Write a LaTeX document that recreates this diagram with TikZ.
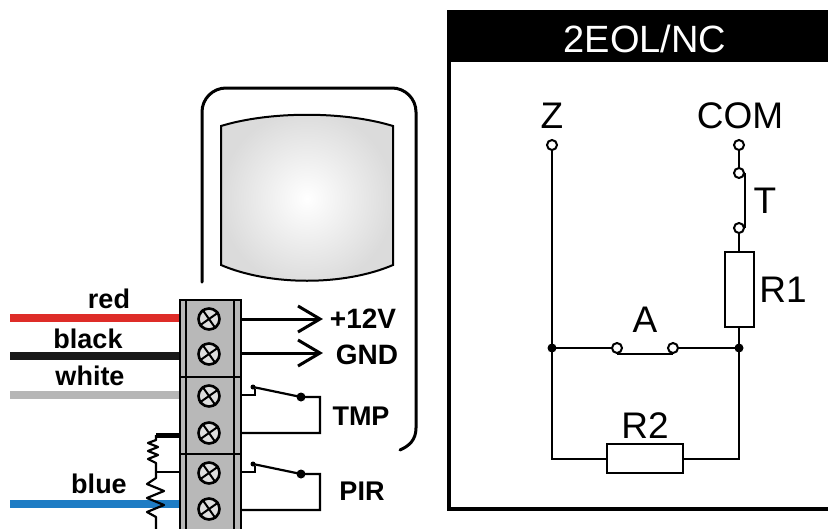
\documentclass[tikz,border=0pt]{standalone}
\usepackage{fontspec}
\setmainfont{Liberation Sans}
\definecolor{wirered}{RGB}{222,44,40}
\definecolor{wireblack}{RGB}{25,25,25}
\definecolor{wirewhite}{RGB}{182,182,182}
\definecolor{wireblue}{RGB}{30,124,196}
\definecolor{blockgray}{RGB}{184,184,184}
\definecolor{screwfill}{RGB}{222,222,222}
\begin{document}
\begin{tikzpicture}[x=1pt,y=-1pt,
  lbl/.style={font=\fontsize{27}{30}\selectfont\bfseries, inner sep=0, anchor=base},
  clbl/.style={font=\fontsize{37}{40}\selectfont, inner sep=0, anchor=base},
  cable/.style={line width=8},
  thin/.style={line width=2.2},
  ckt/.style={line width=2},
  term/.style={circle, draw, line width=2, fill=white, minimum size=10, inner sep=0},
  jdot/.style={circle, fill=black, minimum size=9, inner sep=0},
  sdot/.style={circle, fill=black, minimum size=5, inner sep=0},
  bdot/.style={circle, fill=black, minimum size=9, inner sep=0},
  screw/.style={circle, draw, line width=2.6, fill=screwfill, minimum size=21, inner sep=0},
  resbox/.style={draw, rectangle, line width=2, fill=white, inner sep=0}]
\useasboundingbox (0,0) rectangle (828,528);
\fill[white] (0,0) rectangle (828,528);

% ---------------- detector housing ----------------
\draw[line width=3, line cap=round]
  (202,282) -- (202,112) arc[start angle=180, end angle=270, radius=24]
  -- (392,88) arc[start angle=270, end angle=360, radius=24]
  -- (416,428) .. controls (416,440) and (409,446) .. (400,450);
\shade[inner color=white, outer color=gray!28]
  (221,126) .. controls (270,111) and (344,111) .. (393,126) -- (393,265)
  .. controls (344,286) and (270,286) .. (221,265) -- cycle;
\draw[line width=2]
  (221,126) .. controls (270,111) and (344,111) .. (393,126) -- (393,265)
  .. controls (344,286) and (270,286) .. (221,265) -- cycle;

% ---------------- cables ----------------
\coordinate (redL) at (10,318);   \coordinate (redR) at (181,318);
\coordinate (blkL) at (10,356);   \coordinate (blkR) at (181,356);
\coordinate (whtL) at (10,395);   \coordinate (whtR) at (181,395);
\coordinate (bluL) at (10,504);   \coordinate (bluR) at (181,504);
\draw[cable, wirered]   (redL) -- (redR);
\draw[cable, wireblack] (blkL) -- (blkR);
\draw[cable, wirewhite] (whtL) -- (whtR);
\draw[cable, wireblue]  (bluL) -- (bluR);
\node[lbl] (tred)   at (109,308) {red};
\node[lbl] (tblack) at (88,348)  {black};
\node[lbl] (twhite) at (90,385)  {white};
\node[lbl] (tblue)  at (99,493)  {blue};

% end-of-line resistors on the left of the block
\coordinate (rtop) at (156,435);
\coordinate (rmid) at (156,472);
\draw[line width=5] (rtop) -- (181,435);
\draw[thin] (rmid) -- (181,472);
\draw[thin, line join=round]
  (rtop) -- (156,440) -- (148,443) -- (158,447) -- (148,451) -- (158,455)
  -- (148,459) -- (156,463) -- (rmid);
\draw[thin, line join=round]
  (rmid) -- (156,478) -- (147,484) -- (164,491) -- (147,498) -- (164,505)
  -- (147,512) -- (156,517) -- (156,530);

% ---------------- terminal block ----------------
\fill[blockgray] (180,300) rectangle (241,535);
\draw[line width=2] (180,535) -- (180,300) -- (241,300) -- (241,535);
\draw[line width=1.6] (186,300) -- (186,535) (234,300) -- (234,535);
\draw[line width=2] (180,377) -- (241,377) (180,454) -- (241,454);
\foreach \n/\yy in {1/319, 2/354, 3/396, 4/433, 5/473, 6/509} {
  \node[screw] (s\n) at (209,\yy) {};
  \draw[line width=2] (s\n.35) -- (s\n.215) (s\n.125) -- (s\n.305);
}

% ---------------- power outputs ----------------
\coordinate (p12s) at (241,319); \coordinate (p12e) at (320,319);
\coordinate (gnds) at (241,353); \coordinate (gnde) at (320,353);
\draw[line width=3] (p12s) -- (p12e);
\draw[line width=3, line join=miter] (p12e) ++(-22,-13) -- (p12e) -- ++(-22,13);
\draw[line width=3] (gnds) -- (gnde);
\draw[line width=3, line join=miter] (gnde) ++(-22,-13) -- (gnde) -- ++(-22,13);
\node[lbl, font=\fontsize{28}{30}\selectfont\bfseries] (t12v) at (363,328) {+12V};
\node[lbl, font=\fontsize{28}{30}\selectfont\bfseries] (tgnd) at (367,364) {GND};

% ---------------- tamper and alarm contacts ----------------
\foreach \nm/\dy in {tmp/0, pir/77} {
  \coordinate (\nm a) at (241,395+\dy);
  \coordinate (\nm b) at (255,395+\dy);
  \coordinate (\nm c) at (255,389+\dy);
  \node[sdot] (\nm s) at (253,387+\dy) {};
  \node[bdot] (\nm d) at (301,397+\dy) {};
  \coordinate (\nm e) at (320,397+\dy);
  \coordinate (\nm f) at (320,433+\dy);
  \coordinate (\nm g) at (241,433+\dy);
  \draw[thin] (\nm a) -- (\nm b) -- (\nm c);
  \draw[thin] (\nm s.center) -- (\nm d.center) -- (\nm e) -- (\nm f) -- (\nm g);
}
\node[lbl] (ttmp) at (361,425) {TMP};
\node[lbl] (tpir) at (362,500) {PIR};

% ---------------- 2EOL/NC schematic ----------------
\fill[black] (447,12) rectangle (840,62);
\draw[line width=3.5] (840,12) -- (449,12) -- (449,509) -- (840,509);
\node[clbl, text=white, font=\fontsize{38}{40}\selectfont] (title) at (645,52) {2EOL/NC};

\node[term] (zT) at (552,145) {};
\node[term] (cT) at (739,145) {};
\node[term] (t1) at (739,173) {};
\node[term] (t2) at (739,228) {};
\node[resbox, minimum width=29, minimum height=75] (r1) at (739,289.5) {};
\node[resbox, minimum width=76, minimum height=29] (r2) at (645,458.5) {};
\node[jdot] (jL) at (552,348) {};
\node[jdot] (jR) at (739,348) {};
\node[term] (aL) at (617,348) {};
\node[term] (aR) at (673,348) {};
\coordinate (bl) at (552,458.5);
\coordinate (br) at (739,458.5);

\draw[ckt] (zT) -- (jL.center) -- (bl) -- (r2.west);
\draw[ckt] (r2.east) -- (br) -- (jR.center);
\draw[ckt] (jR.center) -- (r1.south);
\draw[ckt] (r1.north) -- (t2);
\draw[ckt] (cT) -- (t1);
\draw[ckt] (t1.east) -- (t2.east);
\draw[ckt] (jL.center) -- (aL.west);
\draw[ckt] (aR.east) -- (jR.center);
\draw[ckt] (aL.south) -- (aR.south);

\node[clbl] (tz)   at (552,128) {Z};
\node[clbl] (tcom) at (740,128) {COM};
\node[clbl] (tt)   at (765,213) {T};
\node[clbl] (tr1)  at (783,302) {R1};
\node[clbl] (ta)   at (645,332) {A};
\node[clbl] (tr2)  at (645,438) {R2};
\end{tikzpicture}
\end{document}
